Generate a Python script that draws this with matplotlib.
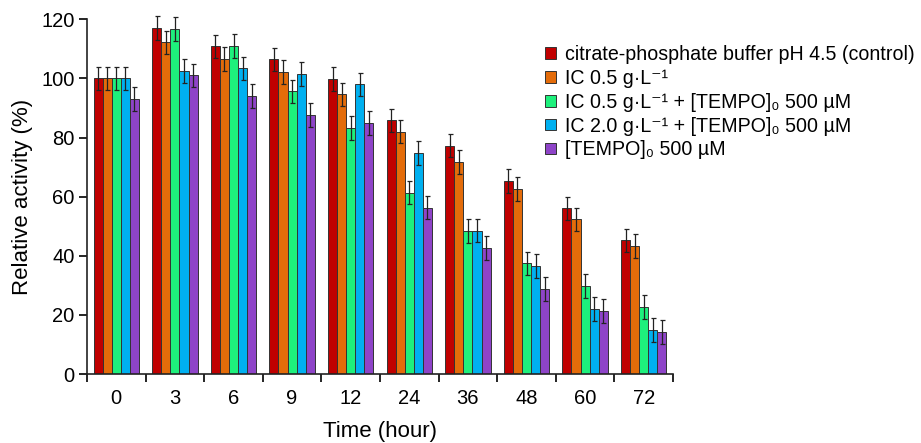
import matplotlib
matplotlib.use("Agg")
import matplotlib.pyplot as plt
import numpy as np

plt.rcParams['font.family'] = ['Liberation Sans', 'DejaVu Sans']

times = ["0", "3", "6", "9", "12", "24", "36", "48", "60", "72"]
series_names = [
    "citrate-phosphate buffer pH 4.5 (control)",
    "IC 0.5 g·L⁻¹",
    "IC 0.5 g·L⁻¹ + [TEMPO]₀ 500 µM",
    "IC 2.0 g·L⁻¹ + [TEMPO]₀ 500 µM",
    "[TEMPO]₀ 500 µM",
]
control = [100, 117.0, 110.8, 106.4, 99.7, 85.8, 77.3, 65.4, 56.0, 45.2]
ic05 = [100, 112.2, 106.5, 102.1, 94.6, 82.0, 71.7, 62.5, 52.3, 43.2]
ic05_tempo = [100, 116.7, 110.9, 95.6, 83.3, 61.4, 48.3, 37.4, 29.7, 22.6]
ic20_tempo = [100, 102.5, 103.4, 101.5, 98.0, 74.7, 48.5, 36.5, 21.9, 14.8]
tempo = [93.1, 101.0, 94.0, 87.7, 84.9, 56.3, 42.7, 28.7, 21.4, 14.3]
errors = [4.0, 4.0, 4.0, 4.0, 4.0, 4.0, 4.0, 4.0, 4.0, 4.0]
colors = ["#C00000", "#E46C0A", "#1EF07C", "#00B0F0", "#8E44C8"]

data = [control, ic05, ic05_tempo, ic20_tempo, tempo]

fig = plt.figure(figsize=(9.21, 4.43), dpi=100)
ax = fig.add_axes([87/921, 1-374/443, (673-87)/921, (374-19.3)/443])

n = len(data)
x = np.arange(len(times))
w = 0.155
handles = []
for i, (vals, c, name) in enumerate(zip(data, colors, series_names)):
    pos = x + (i - (n-1)/2) * w
    b = ax.bar(pos, vals, width=w, color=c, edgecolor="#333333", linewidth=0.7,
               yerr=errors, capsize=1.8, error_kw=dict(ecolor="#222222", elinewidth=0.9, capthick=0.9),
               label=name)
    for art in b.errorbar.get_children():
        art.set_clip_on(False)
    handles.append(b)

ax.set_xlim(-0.5, len(times)-0.5)
ax.set_ylim(0, 120)
ax.set_yticks(np.arange(0, 121, 20))
ax.set_xticks(x)
ax.set_xticklabels(times)
ax.set_xticks(np.arange(-0.5, len(times), 1), minor=True)
ax.tick_params(axis='x', which='major', length=0, pad=11, labelsize=14.5)
ax.tick_params(axis='x', which='minor', length=6, width=1.2, direction='out')
ax.tick_params(axis='y', length=6, width=1.2, direction='out', labelsize=14.5, pad=3)
for s in ['top', 'right']:
    ax.spines[s].set_visible(False)
for s in ['left', 'bottom']:
    ax.spines[s].set_linewidth(1.2)
    ax.spines[s].set_color("#222222")

ax.set_ylabel("Relative activity (%)", fontsize=16, labelpad=6)
ax.set_xlabel("Time (hour)", fontsize=16, labelpad=9)

fig.legend(handles=handles, loc='upper left', bbox_to_anchor=(537/921, 1-37/443),
           frameon=False, fontsize=14.1, handlelength=0.55, handleheight=0.55,
           handletextpad=0.5, labelspacing=0.25, borderaxespad=0)

fig.savefig("out.png", dpi=100)
